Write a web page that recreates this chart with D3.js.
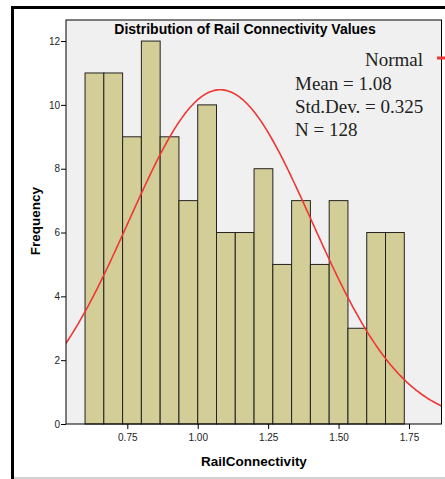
<!DOCTYPE html>
<html>
<head>
<meta charset="utf-8">
<script src="https://cdn.jsdelivr.net/npm/d3@7"></script>
<style>
  body { margin: 0; background: #fff; }
  svg { display: block; }
</style>
</head>
<body>
<div id="vizContainer"></div>
<script>
let w = 445;
let h = 479;

// histogram counts, one per bin (bins of width 1/15 starting at 0.6)
let counts = [11, 11, 9, 12, 9, 7, 10, 6, 6, 8, 5, 7, 5, 7, 3, 6, 6];
let binStart = 0.6;
let binWidth = 1 / 15;
let xTicks = [0.75, 1.00, 1.25, 1.50, 1.75];
let yTicks = [0, 2, 4, 6, 8, 10, 12];
let statMean = 1.08;
let statSd = 0.325;
let statN = 128;
let legendLines = ["Mean = 1.08", "Std.Dev. = 0.325", "N = 128"];

let plotL = 66, plotR = 441.5, plotT = 20, plotB = 424;

let viz = d3.select("#vizContainer").append("svg")
	.attr("width", w)
	.attr("height", h)
	.style("background-color", "white");

// outer frame
viz.append("path")
	.attr("d", "M12.5,479 V7.5 H445")
	.attr("fill", "none")
	.attr("stroke", "black")
	.attr("stroke-width", 3);
viz.append("line")
	.attr("x1", 14).attr("x2", w)
	.attr("y1", 478).attr("y2", 478)
	.attr("stroke", "#c4c4c4")
	.attr("stroke-width", 1.5);

let xScale = d3.scaleLinear().domain([0.5324, 1.8654]).range([plotL, plotR]);
let yScale = d3.scaleLinear().domain([0, 12.66]).range([plotB, plotT]);

// plot background
viz.append("rect")
	.attr("x", plotL).attr("y", plotT)
	.attr("width", plotR - plotL).attr("height", plotB - plotT)
	.attr("fill", "#f0f0f0");

viz.append("clipPath").attr("id", "plotClip")
	.append("rect")
	.attr("x", plotL).attr("y", plotT)
	.attr("width", plotR - plotL).attr("height", plotB - plotT);

// bars
viz.append("g").selectAll("rect").data(counts).enter().append("rect")
	.attr("x", function (d, i) { return xScale(binStart + i * binWidth); })
	.attr("y", function (d) { return yScale(d); })
	.attr("width", function (d, i) { return xScale(binStart + (i + 1) * binWidth) - xScale(binStart + i * binWidth); })
	.attr("height", function (d) { return yScale(0) - yScale(d); })
	.attr("fill", "#d3ce97")
	.attr("stroke", "#222")
	.attr("stroke-width", 1);

// normal curve
let normal = function (x) {
	let z = (x - statMean) / statSd;
	return statN * binWidth / (statSd * Math.sqrt(2 * Math.PI)) * Math.exp(-0.5 * z * z);
};
let curveXs = d3.range(0.52, 1.88, 0.005);
viz.append("path")
	.datum(curveXs)
	.attr("clip-path", "url(#plotClip)")
	.attr("fill", "none")
	.attr("stroke", "#f03535")
	.attr("stroke-width", 1.6)
	.attr("d", d3.line()
		.x(function (d) { return xScale(d); })
		.y(function (d) { return yScale(normal(d)); }));

// plot border
viz.append("rect")
	.attr("x", plotL).attr("y", plotT)
	.attr("width", plotR - plotL).attr("height", plotB - plotT)
	.attr("fill", "none")
	.attr("stroke", "black")
	.attr("stroke-width", 1);

// axes
let xAxis = d3.axisBottom(xScale).tickValues(xTicks).tickFormat(d3.format(".2f")).tickSize(5).tickSizeOuter(0);
let yAxis = d3.axisLeft(yScale).tickValues(yTicks).tickFormat(d3.format("d")).tickSize(5).tickSizeOuter(0);

let gx = viz.append("g").attr("transform", "translate(0," + plotB + ")").call(xAxis);
let gy = viz.append("g").attr("transform", "translate(" + plotL + ",0)").call(yAxis);
[gx, gy].forEach(function (g) {
	g.select(".domain").remove();
	g.selectAll("line").attr("stroke", "black");
	g.selectAll("text")
		.attr("fill", "#222")
		.style("font-family", "'Liberation Sans', Arial, sans-serif")
		.style("font-size", "10px");
});
gx.selectAll("text").attr("dy", "0.92em");
gy.selectAll("text").attr("x", -6);

// titles
viz.append("text")
	.attr("x", 245).attr("y", 34)
	.attr("text-anchor", "middle")
	.style("font-family", "'Liberation Sans', Arial, sans-serif")
	.style("font-weight", "bold")
	.style("font-size", "14px")
	.text("Distribution of Rail Connectivity Values");

viz.append("text")
	.attr("x", 254).attr("y", 466)
	.attr("text-anchor", "middle")
	.style("font-family", "'Liberation Sans', Arial, sans-serif")
	.style("font-weight", "bold")
	.style("font-size", "13.5px")
	.text("RailConnectivity");

viz.append("text")
	.attr("transform", "translate(40,221) rotate(-90)")
	.attr("text-anchor", "middle")
	.style("font-family", "'Liberation Sans', Arial, sans-serif")
	.style("font-weight", "bold")
	.style("font-size", "13.5px")
	.text("Frequency");

// legend
let legendFont = "'Liberation Serif', 'DejaVu Serif', serif";
viz.append("text")
	.attr("x", 423).attr("y", 66)
	.attr("text-anchor", "end")
	.attr("fill", "#222")
	.style("font-family", legendFont)
	.style("font-size", "19px")
	.text("Normal");
viz.append("line")
	.attr("x1", 437).attr("x2", 447)
	.attr("y1", 58).attr("y2", 58)
	.attr("stroke", "#f03535")
	.attr("stroke-width", 3);
viz.append("g").selectAll("text").data(legendLines).enter().append("text")
	.attr("x", 295)
	.attr("y", function (d, i) { return 90 + i * 23; })
	.attr("fill", "#222")
	.style("font-family", legendFont)
	.style("font-size", "19px")
	.text(function (d) { return d; });
</script>
</body>
</html>
